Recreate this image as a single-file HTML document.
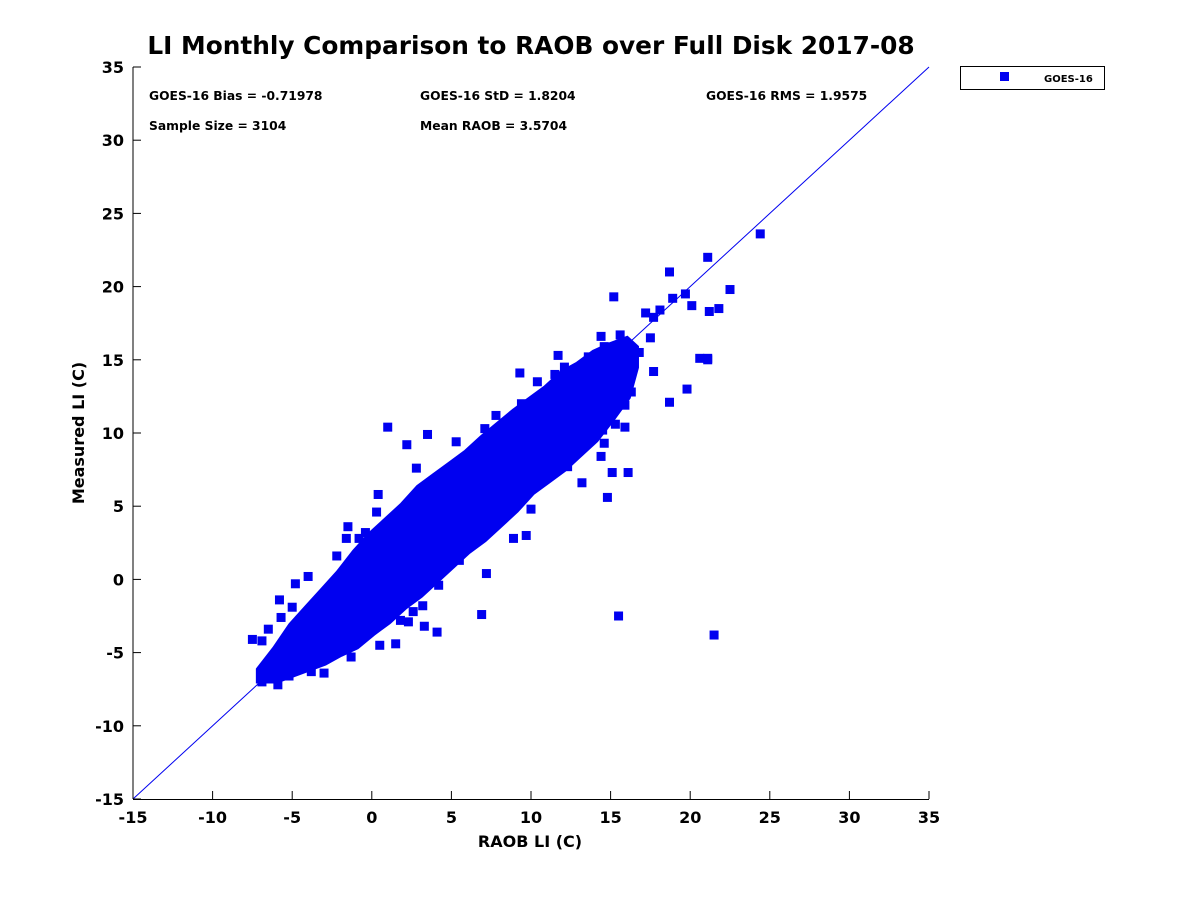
<!DOCTYPE html>
<html><head><meta charset="utf-8"><style>
body{margin:0;background:#fff;}
svg{display:block;font-family:"DejaVu Sans","Liberation Sans",sans-serif;font-weight:bold;}
</style></head><body>
<svg id="chart" width="1200" height="900" viewBox="0 0 1200 900">
<rect width="1200" height="900" fill="#fff"/>
<text x="531" y="54" font-size="24.8" text-anchor="middle">LI Monthly Comparison to RAOB over Full Disk 2017-08</text>
<g id="core"></g>
<g id="pts"></g>
<g id="axes"></g>
<g font-size="12.3">
<text x="149" y="100">GOES-16 Bias = -0.71978</text>
<text x="420" y="100">GOES-16 StD = 1.8204</text>
<text x="706" y="100">GOES-16 RMS = 1.9575</text>
<text x="149" y="130">Sample Size = 3104</text>
<text x="420" y="130">Mean RAOB = 3.5704</text>
</g>
<g>
<rect x="960.5" y="66.5" width="144" height="23" fill="#fff" stroke="#000"/>
<rect x="1000" y="72" width="9" height="9" fill="#0000f0"/>
<text x="1044" y="82" font-size="10">GOES-16</text>
</g>
<text x="530" y="847" font-size="16" text-anchor="middle">RAOB LI (C)</text>
<text transform="translate(84,433) rotate(-90)" font-size="16" text-anchor="middle">Measured LI (C)</text>
</svg>
<script>
const xTicks=[-15,-10,-5,0,5,10,15,20,25,30,35];
const yTicks=[-15,-10,-5,0,5,10,15,20,25,30,35];
const coreX=[-7,-6,-5,-4,-3,-2,-1,0,1,2,3,4,5,6,7,8,9,10,11,12,13,14,15,16,16.5];
const coreUpper=[-6.2,-4.8,-3.2,-2,-0.8,0.4,1.8,3,4,5,6.2,7,7.8,8.6,9.6,10.5,11.4,12.2,13,14,14.6,15.4,15.9,16.3,15.8];
const coreLower=[-6.8,-6.8,-6.4,-6,-5.6,-5,-4.5,-3.6,-2.8,-1.8,-1,0,1,2,2.8,3.8,4.8,6,6.8,7.6,8.6,9.6,11,12.5,14.5];
const ptX=[-7.5,-6.9,-6.9,-6.9,-5.9,-6.3,-6.5,-5.8,-5.7,-5,-4.8,-4,-2.4,-2.2,-1.6,-1.5,-0.8,-0.4,0.3,0.4,1,2.2,3.5,2.8,5.3,6.3,7.1,7.8,9.4,9.3,10.4,11.5,11.7,12.1,13.6,14.4,14.6,15.2,15.6,16.8,17.2,17.7,18.1,18.7,18.9,19.7,20.1,21.1,21.2,21.8,22.5,24.4,20.6,21.1,21.1,19.8,18.7,17.7,16.3,15.9,15.9,15.3,14.6,14.5,13.4,15.1,14.4,14.8,16.1,13.2,12.3,10,9.7,8.9,7.8,7.2,6.9,5.5,4.8,4.2,4.1,3.3,3.2,2.3,1.5,2.6,15.5,21.5,-3.8,-4.2,-5.2,-3,-1.3,0.5,1.8,11.3,12.1,13.9,17.5,16.2];
const ptY=[-4.1,-4.2,-6.8,-7,-7.2,-6.2,-3.4,-1.4,-2.6,-1.9,-0.3,0.2,-0.8,1.6,2.8,3.6,2.8,3.2,4.6,5.8,10.4,9.2,9.9,7.6,9.4,8.7,10.3,11.2,12,14.1,13.5,14,15.3,14.5,15.2,16.6,15.9,19.3,16.7,15.5,18.2,17.9,18.4,21,19.2,19.5,18.7,22,18.3,18.5,19.8,23.6,15.1,15.1,15,13,12.1,14.2,12.8,10.4,11.9,10.6,9.3,10.2,10.2,7.3,8.4,5.6,7.3,6.6,7.7,4.8,3,2.8,5,0.4,-2.4,1.3,1.5,-0.4,-3.6,-3.2,-1.8,-2.9,-4.4,-2.2,-2.5,-3.8,-6.3,-5.9,-6.6,-6.4,-5.3,-4.5,-2.8,10.2,9.6,10.8,16.5,14.7];
const X0=133,X1=929,Y0=799,Y1=67;
const sx=v=>X0+(v+15)/50*(X1-X0);
const sy=v=>Y0-(v+15)/50*(Y0-Y1);
const NS='http://www.w3.org/2000/svg';
function mk(t,a,p){const e=document.createElementNS(NS,t);for(const k in a)e.setAttribute(k,a[k]);p.appendChild(e);return e;}
const core=document.getElementById('core'),pts=document.getElementById('pts'),axes=document.getElementById('axes');
let d='';
coreX.forEach((x,i)=>{d+=(i?'L':'M')+sx(x)+','+sy(coreUpper[i]);});
for(let i=coreX.length-1;i>=0;i--)d+='L'+sx(coreX[i])+','+sy(coreLower[i]);
const poly=mk('path',{d:d+'Z',fill:'#0000f0',stroke:'#0000f0','stroke-width':9,'stroke-linejoin':'miter'},core);


ptX.forEach((x,i)=>{
 const r=mk('rect',{x:sx(x)-4.5,y:sy(ptY[i])-4.5,width:9,height:9,fill:'#0000f0'},pts);
 
 
});
const ln=mk('line',{x1:sx(-15),y1:sy(-15),x2:sx(35),y2:sy(35),stroke:'#0000f0','stroke-width':1},axes);


mk('line',{x1:X0,y1:Y1,x2:X0,y2:Y0,stroke:'#000'},axes);
mk('line',{x1:X0,y1:Y0+0.5,x2:X1,y2:Y0+0.5,stroke:'#000'},axes);
xTicks.forEach(v=>{
 mk('line',{x1:sx(v),y1:Y0,x2:sx(v),y2:Y0-8,stroke:'#000'},axes);
 const t=mk('text',{x:sx(v),y:Y0+24,'font-size':16,'text-anchor':'middle'},axes);
 t.textContent=v;
 
 
});
yTicks.forEach(v=>{
 mk('line',{x1:X0,y1:sy(v),x2:X0+8,y2:sy(v),stroke:'#000'},axes);
 const t=mk('text',{x:X0-9,y:sy(v)+6,'font-size':16,'text-anchor':'end'},axes);
 t.textContent=v;
 
 
});
</script>
</body></html>
